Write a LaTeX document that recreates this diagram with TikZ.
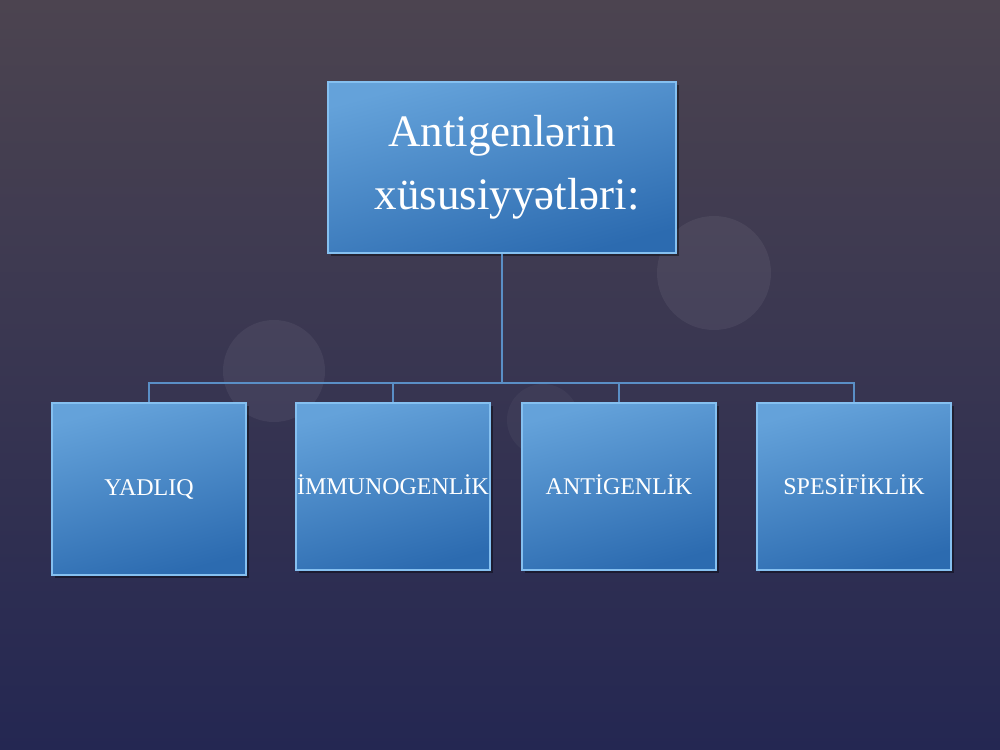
\documentclass[tikz,border=0pt]{standalone}
\usepackage{fontspec}
\setmainfont{Liberation Serif}
\usetikzlibrary{shadows}
\definecolor{bgtop}{HTML}{4C4450}
\definecolor{bgmid}{HTML}{3F3A4E}
\definecolor{bgbot}{HTML}{242752}
\definecolor{boxlight}{HTML}{64A2DA}
\definecolor{boxdark}{HTML}{2C6BB0}
\definecolor{boxedge}{HTML}{85C0F0}
\definecolor{connc}{HTML}{5A8FC6}
\tikzset{
  box/.style={draw=boxedge, line width=1.2pt, shading=axis, top color=boxlight, bottom color=boxdark, shading angle=15,
    drop shadow={opacity=0.4, shadow xshift=2pt, shadow yshift=-2pt, fill=black},
    text=white, align=center, inner sep=0pt},
  topbox/.style={box, minimum width=261pt, minimum height=128.25pt, font=\fontsize{33.75pt}{49.5pt}\selectfont},
  leaf/.style={box, minimum width=145.5pt, minimum height=125.25pt, font=\fontsize{18pt}{21pt}\selectfont},
  conn/.style={draw=connc, line width=0.9pt},
  bokeh/.style={fill=white, opacity=0.06}
}
\begin{document}
\begin{tikzpicture}[x=0.75pt,y=-0.75pt]
\useasboundingbox (0,0) rectangle (1000,750);
\shade[top color=bgtop, middle color=bgmid, bottom color=bgbot] (0,0) rectangle (1000,750);
\fill[bokeh] (274,371) circle (51);
\fill[bokeh] (714,273) circle (57);
\fill[bokeh, opacity=0.04] (543,420) circle (36);

\node[topbox] (top) at (502,167.5) {Antigenlərin\\[-2pt] \hspace*{8pt}xüsusiyyətləri:};

\node[leaf, minimum height=129pt] (b1) at (149,489) {YADLIQ};
\node[leaf] (b2) at (393,486.5) {\raisebox{2.5pt}{İMMUNOGENLİK}};
\node[leaf] (b3) at (619,486.5) {\raisebox{2.5pt}{ANTİGENLİK}};
\node[leaf] (b4) at (854,486.5) {\raisebox{2.5pt}{SPESİFİKLİK}};

\coordinate (bus) at (502,383);
\draw[conn] (top.south) -- (bus);
\foreach \b in {b1,b2,b3,b4} \draw[conn] (bus) -| (\b.north);
\end{tikzpicture}
\end{document}
